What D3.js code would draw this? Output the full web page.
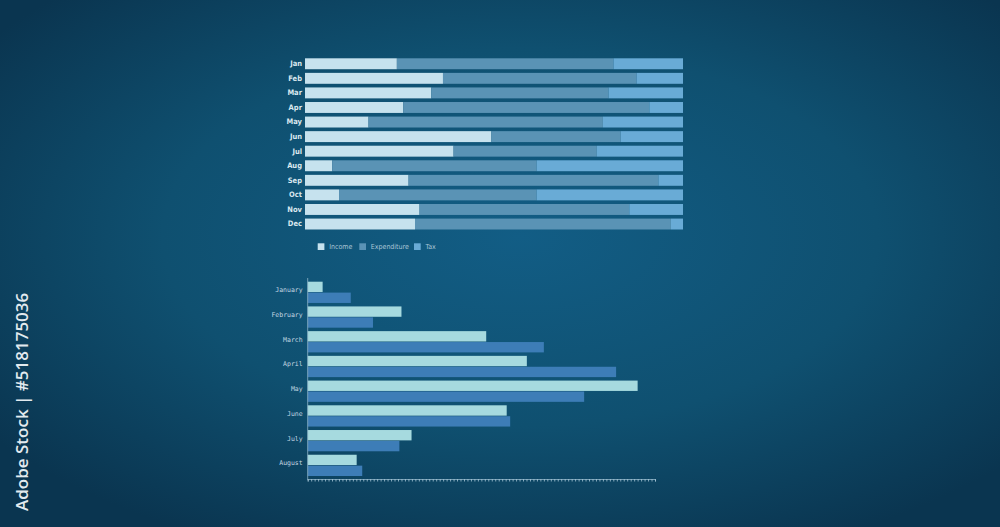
<!DOCTYPE html>
<html>
<head>
<meta charset="utf-8">
<script src="https://cdn.jsdelivr.net/npm/d3@7"></script>
<style>
  html, body { margin: 0; padding: 0; background: #0c3d5a; }
  svg { display: block; }
</style>
</head>
<body>
<div id="chart"></div>
<script>
const width = 1000;
const height = 527;

// top chart: share of each month (percent)
const months = ["Jan", "Feb", "Mar", "Apr", "May", "Jun", "Jul", "Aug", "Sep", "Oct", "Nov", "Dec"];
const income = [24.3, 36.5, 33.4, 26.0, 16.8, 49.3, 39.3, 7.2, 27.4, 9.0, 30.3, 29.1];
const expenditure = [57.3, 51.2, 46.9, 65.1, 62.0, 34.2, 37.9, 54.1, 66.1, 52.3, 55.5, 67.7];
const tax = [18.4, 12.3, 19.7, 8.9, 21.2, 16.5, 22.8, 38.7, 6.5, 38.7, 14.2, 3.2];
const legendLabels = ["Income", "Expenditure", "Tax"];

// bottom chart
const longMonths = ["January", "February", "March", "April", "May", "June", "July", "August"];
const seriesA = [4.3, 27.0, 51.4, 63.1, 95.0, 57.3, 29.9, 14.1];
const seriesB = [12.4, 18.8, 68.0, 88.8, 79.6, 58.3, 26.4, 15.7];

const topColors = ["#c6e2ee", "#5a93b5", "#69abd6"];
const bottomColors = ["#a6dadf", "#3d7db7"];

const svg = d3.select("#chart")
    .append("svg")
    .attr("width", width)
    .attr("height", height);

// background
const defs = svg.append("defs");
const grad = defs.append("radialGradient")
    .attr("id", "bg")
    .attr("cx", "52%").attr("cy", "45%").attr("r", "65%");
grad.append("stop").attr("offset", "0%").attr("stop-color", "#125d85");
grad.append("stop").attr("offset", "55%").attr("stop-color", "#0f5070");
grad.append("stop").attr("offset", "100%").attr("stop-color", "#0a3550");

svg.append("rect")
    .attr("width", width)
    .attr("height", height)
    .attr("fill", "url(#bg)");

// ---- top stacked chart ----
const table = months.map((m, i) => ({ month: m, income: income[i], expenditure: expenditure[i], tax: tax[i] }));
const stacked = d3.stack().keys(["income", "expenditure", "tax"])(table);

const x1 = d3.scaleLinear().domain([0, 100]).range([305, 683]);
const y1 = d3.scaleBand().domain(months).range([58.3, 229.5]).paddingInner(0.25).paddingOuter(0);

const topG = svg.append("g");

topG.selectAll("g.layer")
    .data(stacked)
    .join("g")
    .attr("class", "layer")
    .attr("fill", (d, i) => topColors[i])
    .selectAll("rect")
    .data(d => d)
    .join("rect")
    .attr("x", d => x1(d[0]))
    .attr("y", d => y1(d.data.month))
    .attr("width", d => x1(d[1]) - x1(d[0]))
    .attr("height", y1.bandwidth());

const topAxis = topG.append("g")
    .attr("transform", `translate(${x1(0)},0)`)
    .call(d3.axisLeft(y1).tickSize(0).tickPadding(3));
topAxis.select(".domain").remove();
topAxis.selectAll("text")
    .attr("fill", "#dbe8ef")
    .style("font-family", "'Liberation Sans Narrow', 'DejaVu Sans Condensed', sans-serif")
    .style("font-weight", "bold")
    .style("font-size", "7.5px");

// legend
const legendX = d3.scaleOrdinal().domain(legendLabels).range([317.7, 359.3, 414]);
const legend = topG.append("g")
    .selectAll("g")
    .data(legendLabels)
    .join("g")
    .attr("transform", d => `translate(${legendX(d)},243.3)`);
legend.append("rect")
    .attr("width", 6.7)
    .attr("height", 6.7)
    .attr("fill", (d, i) => topColors[i]);
legend.append("text")
    .attr("x", 11.5)
    .attr("y", 3.5)
    .attr("dy", "0.35em")
    .attr("fill", "#a9c5d6")
    .style("font-family", "'Liberation Sans Narrow', 'DejaVu Sans Condensed', sans-serif")
    .style("font-size", "7px")
    .text(d => d);

// ---- bottom grouped chart ----
const x2 = d3.scaleLinear().domain([0, 100]).range([307.7, 655]);
const y2 = d3.scaleBand().domain(longMonths).range([281.7, 476]).paddingInner(0.14).paddingOuter(0);
const ySub = d3.scaleBand().domain([0, 1]).range([0, y2.bandwidth()]).paddingInner(0.05);

const bottomG = svg.append("g");
const rows = longMonths.map((m, i) => ({ month: m, values: [seriesA[i], seriesB[i]] }));

bottomG.selectAll("g.row")
    .data(rows)
    .join("g")
    .attr("class", "row")
    .attr("transform", d => `translate(0,${y2(d.month)})`)
    .selectAll("rect")
    .data(d => d.values)
    .join("rect")
    .attr("x", x2(0))
    .attr("y", (d, i) => ySub(i))
    .attr("width", d => x2(d) - x2(0))
    .attr("height", ySub.bandwidth())
    .attr("fill", (d, i) => bottomColors[i]);

// y axis line and labels
const leftAxis = bottomG.append("g")
    .attr("transform", `translate(${x2(0)},0)`)
    .call(d3.axisLeft(y2).tickSize(0).tickPadding(5).tickSizeOuter(0));
leftAxis.select(".domain")
    .attr("d", "M0,278V480")
    .attr("stroke", "#8fb4c8")
    .attr("stroke-width", 0.8);
leftAxis.selectAll("text")
    .attr("dy", "0.0em")
    .attr("fill", "#c4d7e2")
    .style("font-family", "'DejaVu Sans Mono', monospace")
    .style("font-size", "6.5px");

// x axis with dense minor ticks
const bottomAxis = bottomG.append("g")
    .attr("transform", "translate(0,479)")
    .call(d3.axisBottom(x2).tickValues(d3.range(0, 101)).tickSize(2.5).tickFormat(""));
bottomAxis.select(".domain")
    .attr("stroke", "#8fb4c8")
    .attr("stroke-width", 0.8);
bottomAxis.selectAll(".tick line")
    .attr("stroke", "#a9c8d8")
    .attr("stroke-width", 0.8);

// stock id text on left edge
svg.append("text")
    .attr("transform", "translate(28,511) rotate(-90)")
    .attr("fill", "#e2eaef")
    .style("font-family", "'Open Sans', 'Noto Sans', sans-serif")
    .style("font-weight", "600")
    .style("font-size", "17px")
    .text("Adobe Stock | #518175036");
</script>
</body>
</html>
